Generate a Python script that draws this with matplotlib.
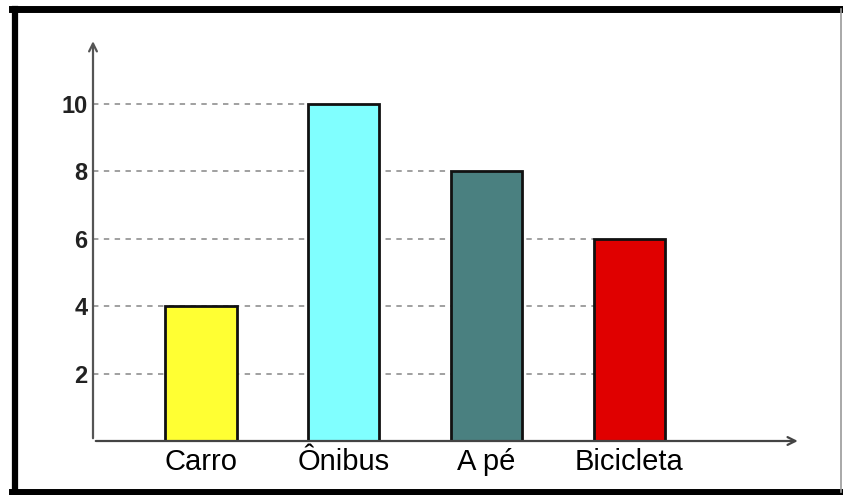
import matplotlib.pyplot as plt
from matplotlib.lines import Line2D

# data
categorias = ["Carro", "Ônibus", "A pé", "Bicicleta"]
valores = [4, 10, 8, 6]
cores = ["#ffff33", "#80ffff", "#4a8080", "#e00000"]
yticks = [2, 4, 6, 8, 10]

plt.rcParams['font.family'] = ['Liberation Sans', 'DejaVu Sans']

fig = plt.figure(figsize=(8.43, 4.95), dpi=100)
W, H = 843, 495
# axes placed in pixel terms
ax = fig.add_axes([93 / W, 54 / H, (812 - 93) / W, (460 - 54) / H])

x = list(range(len(categorias)))
largura = 0.5
x0 = -0.755

ax.bar(x, valores, width=largura, color=cores, edgecolor='#111111', linewidth=2, zorder=3)

# dashed gridlines: from y axis to left edge of the last bar that reaches the level
for t in yticks:
    idx = [i for i, v in enumerate(valores) if v >= t]
    fim = idx[-1] - largura / 2 if idx else x0
    ax.hlines(t, x0, fim, colors='#999999', linestyles=(0, (3, 3)), linewidth=1.3, zorder=1)

ax.set_xlim(x0, 4.28)
ax.set_ylim(0, 12.05)

for s in ax.spines.values():
    s.set_visible(False)

# axes with arrows
ax.annotate('', xy=(4.2, 0), xytext=(x0, 0),
            arrowprops=dict(arrowstyle='->', color='#444444', lw=1.6, mutation_scale=14), zorder=4)
ax.annotate('', xy=(x0, 11.95), xytext=(x0, 0),
            arrowprops=dict(arrowstyle='->', color='#555555', lw=1.6, mutation_scale=14), zorder=4)

ax.set_yticks(yticks)
ax.set_yticklabels([str(t) for t in yticks], fontsize=17, fontweight='bold', color='#222222')
ax.set_xticks(x)
ax.set_xticklabels(categorias, fontsize=21, color='black')
ax.tick_params(axis='y', length=0, pad=4)
ax.tick_params(axis='x', length=0, pad=5)

# outer frame
fig.add_artist(Line2D([12 / W, 842 / W], [1 - 9 / H, 1 - 9 / H], color='black', lw=5))
fig.add_artist(Line2D([15 / W, 15 / W], [1 - 9 / H, 1 - 492 / H], color='black', lw=4.5))
fig.add_artist(Line2D([12 / W, 842 / W], [1 - 492 / H, 1 - 492 / H], color='black', lw=5))
fig.add_artist(Line2D([841 / W, 841 / W], [1 - 9 / H, 1 - 492 / H], color='#999999', lw=1.2))

fig.savefig('out.png', dpi=100)
